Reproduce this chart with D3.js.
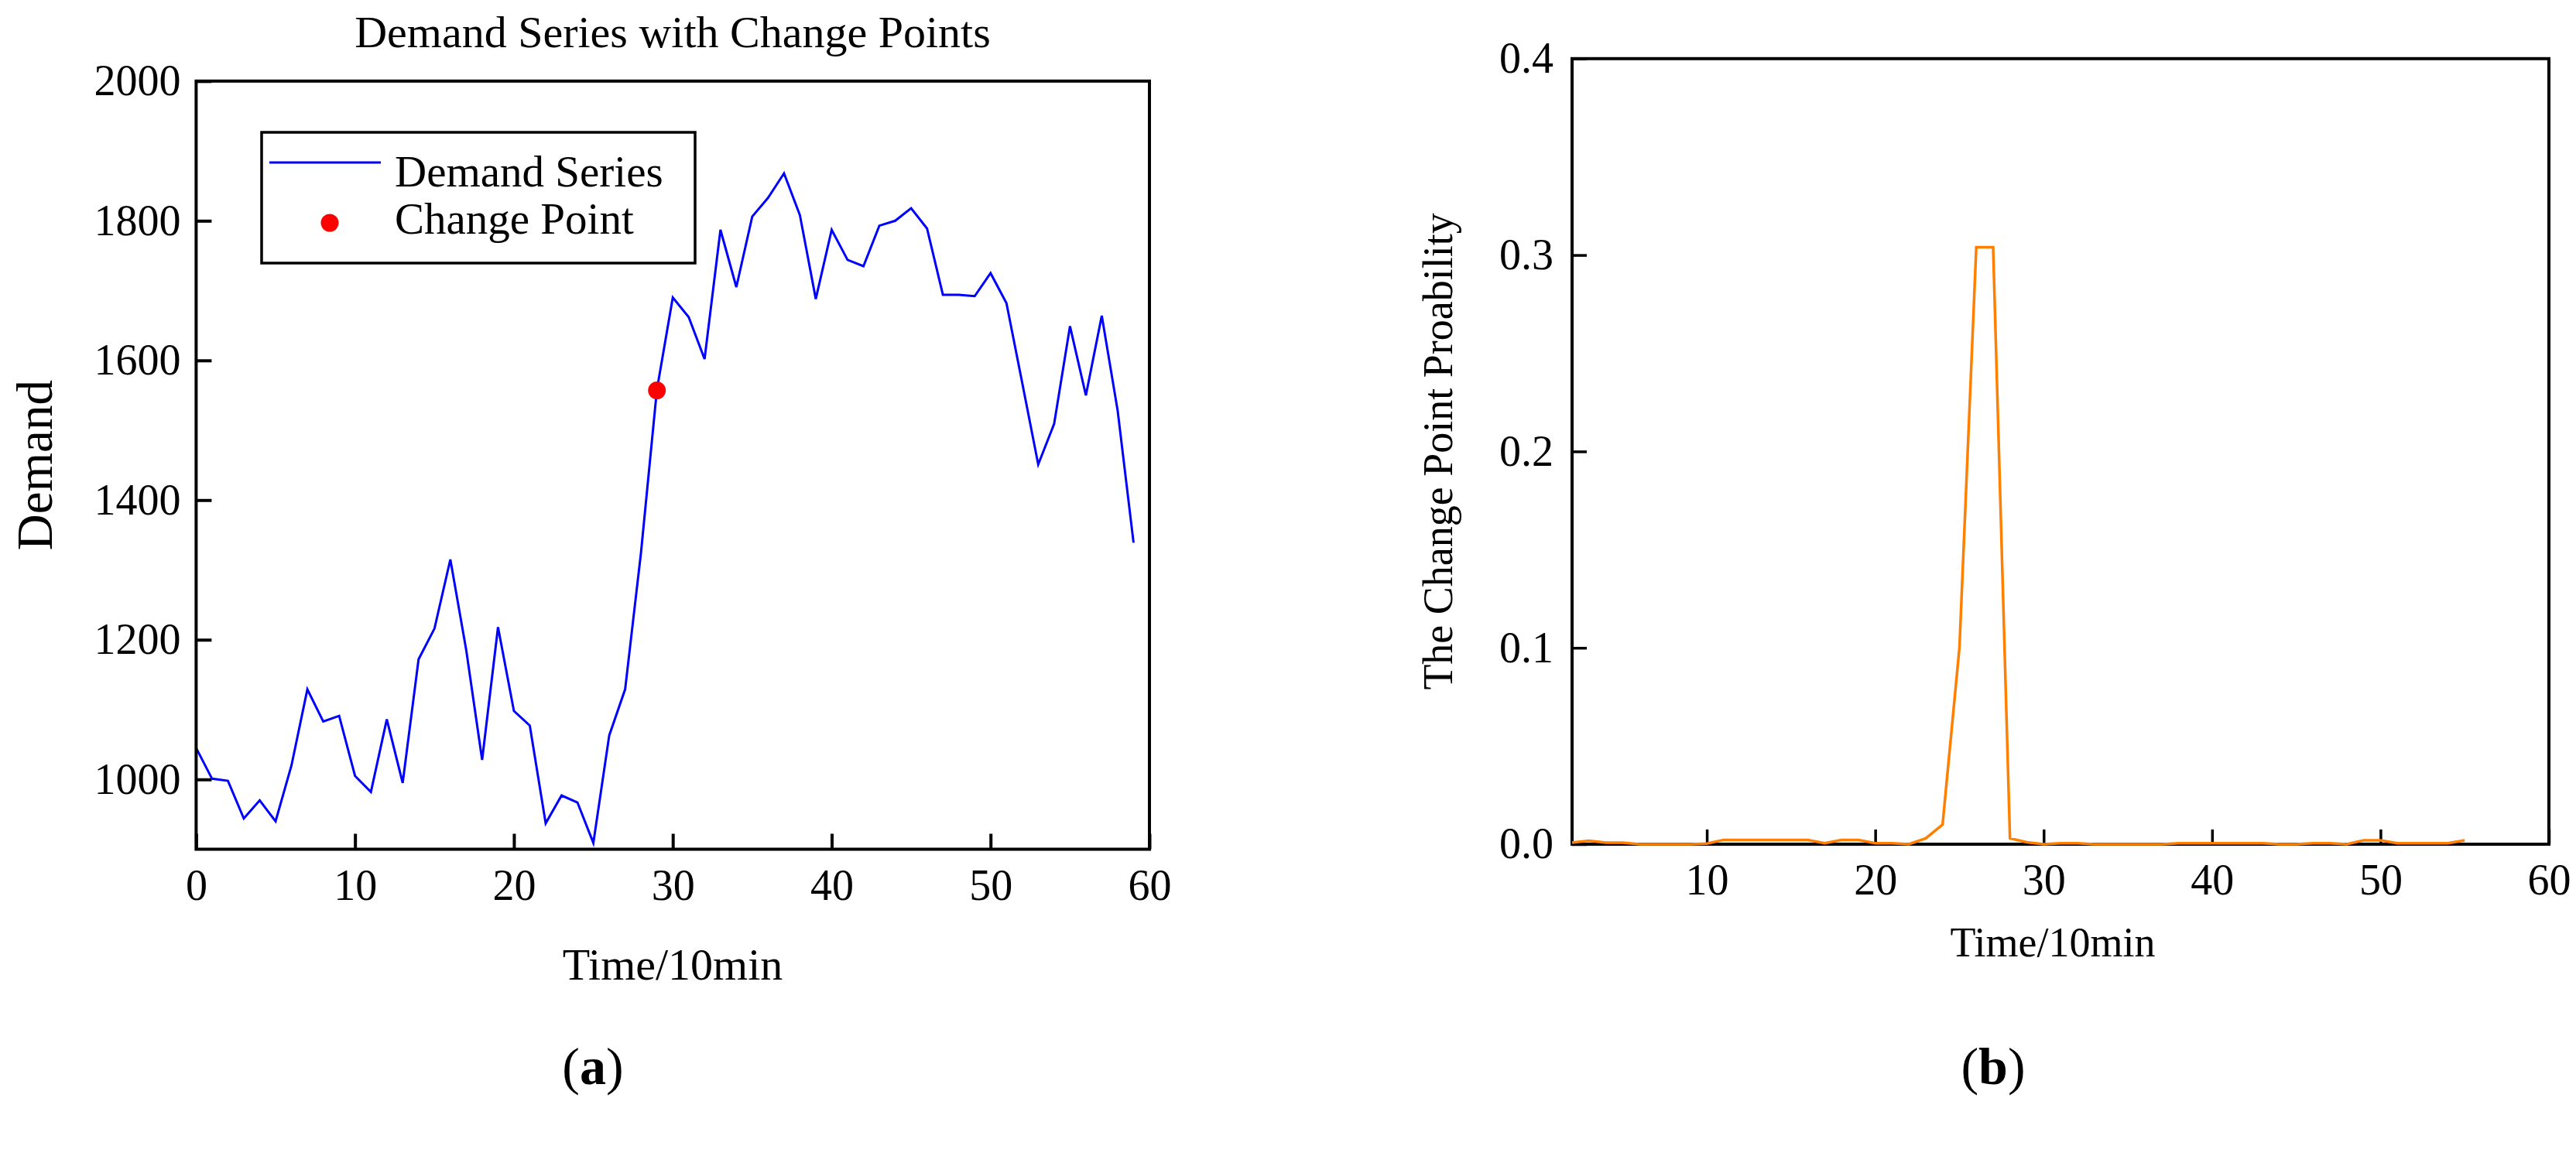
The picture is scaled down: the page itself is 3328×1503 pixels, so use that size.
<!DOCTYPE html>
<html>
<head>
<meta charset="utf-8">
<script src="https://cdn.jsdelivr.net/npm/d3@7"></script>
<style>
  html, body { margin: 0; padding: 0; background: #fff; }
  svg { display: block; }
  text { font-family: "Liberation Serif", "Times New Roman", serif; fill: #000; }
</style>
</head>
<body>
<script>
// ---------- data ----------
const timeA = d3.range(0, 60);
const demand = [1045, 1001, 998, 944, 970, 940, 1020, 1129, 1083, 1091,
                1005, 982, 1086, 995, 1172, 1216, 1315, 1185, 1028, 1218,
                1098, 1077, 937, 977, 967, 909, 1063, 1129, 1325, 1558,
                1690, 1662, 1602, 1787, 1705, 1806, 1833, 1868, 1808, 1688,
                1787, 1744, 1735, 1793, 1800, 1818, 1789, 1694, 1694, 1692,
                1725, 1682, 1567, 1451, 1509, 1649, 1550, 1664, 1528, 1339];
const changePointX = [29];
const changePointY = [1557];

const timeB = d3.range(2, 56);
const prob = [0.0008, 0.0018, 0.0008, 0.0008, 0, 0, 0, 0, 0.0003,
              0.0022, 0.0022, 0.0022, 0.0022, 0.0022, 0.0022, 0.0005, 0.0022, 0.0022,
              0.0005, 0.0005, 0, 0.003, 0.01, 0.1, 0.304, 0.304, 0.003, 0.001,
              0, 0.0005, 0.0005, 0, 0, 0, 0, 0, 0.0005, 0.0005, 0.0005, 0.0005,
              0.0005, 0.0005, 0, 0, 0.0005, 0.0005, 0, 0.002, 0.002, 0.0005,
              0.0005, 0.0005, 0.0005, 0.002];

const xTicksA = [0, 10, 20, 30, 40, 50, 60];
const yTicksA = [1000, 1200, 1400, 1600, 1800, 2000];
const xTicksB = [10, 20, 30, 40, 50, 60];
const yTicksB = [0, 0.1, 0.2, 0.3, 0.4];

const titleA = "Demand Series with Change Points";
const xLabel = "Time/10min";
const yLabelA = "Demand";
const yLabelB = "The Change Point Proability";
const legendLabels = ["Demand Series", "Change Point"];

// ---------- setup ----------
const W = 3328, H = 1503;
const SERIF = '"Liberation Serif", "Times New Roman", serif';
const svg = d3.select("body").append("svg").attr("width", W).attr("height", H);
svg.append("rect").attr("width", W).attr("height", H).attr("fill", "#fff");

const FS = 56;

function styleAxis(a, sw) {
  a.attr("font-family", SERIF).attr("font-size", FS);
  a.select(".domain").remove();
  a.selectAll("line").attr("stroke", "#000").attr("stroke-width", sw);
  a.selectAll("text").attr("font-size", FS).attr("font-family", SERIF).attr("fill", "#000");
}

// ---------- panel (a) ----------
const xa = d3.scaleLinear().domain([0, 60]).range([253.4, 1485]);
const ya = d3.scaleLinear().domain([900, 2000]).range([1097.5, 104.8]);
const ga = svg.append("g");

const axA_x = ga.append("g").attr("transform", `translate(0,${ya(900)})`)
  .call(d3.axisBottom(xa).tickValues(xTicksA).tickFormat(d3.format("d"))
        .tickSizeInner(-20).tickSizeOuter(0).tickPadding(26));
const axA_y = ga.append("g").attr("transform", `translate(${xa(0)},0)`)
  .call(d3.axisLeft(ya).tickValues(yTicksA).tickFormat(d3.format("d"))
        .tickSizeInner(-20).tickSizeOuter(0).tickPadding(20));
styleAxis(axA_x, 4);
styleAxis(axA_y, 4);

ga.append("path").datum(timeA)
  .attr("fill", "none").attr("stroke", "#0000ff").attr("stroke-width", 3)
  .attr("stroke-linejoin", "miter")
  .attr("d", d3.line().x(i => xa(i)).y((i, k) => ya(demand[k])));

ga.selectAll("circle.cp").data(changePointX).enter().append("circle")
  .attr("class", "cp")
  .attr("cx", d => xa(d)).attr("cy", (d, i) => ya(changePointY[i]))
  .attr("r", 11.5).attr("fill", "#ff0000");

ga.append("rect")
  .attr("x", xa(0)).attr("y", ya(2000))
  .attr("width", xa(60) - xa(0)).attr("height", ya(900) - ya(2000))
  .attr("fill", "none").attr("stroke", "#000").attr("stroke-width", 4);

// legend
const lg = ga.append("g");
lg.append("rect").attr("x", 338).attr("y", 171).attr("width", 560).attr("height", 169)
  .attr("fill", "#fff").attr("stroke", "#000").attr("stroke-width", 3.5);
lg.append("line").attr("x1", 348).attr("x2", 492).attr("y1", 210).attr("y2", 210)
  .attr("stroke", "#0000ff").attr("stroke-width", 3);
lg.append("circle").attr("cx", 426).attr("cy", 288).attr("r", 11.5).attr("fill", "#ff0000");
lg.append("text").attr("x", 510).attr("y", 241).attr("font-size", FS + 1).text(legendLabels[0]);
lg.append("text").attr("x", 510).attr("y", 302).attr("font-size", FS + 1).text(legendLabels[1]);

// titles
ga.append("text").attr("x", 869).attr("y", 61).attr("text-anchor", "middle")
  .attr("font-size", FS + 2).text(titleA);
ga.append("text").attr("x", 869).attr("y", 1266).attr("text-anchor", "middle")
  .attr("font-size", FS + 2).text(xLabel);
ga.append("text").attr("transform", `translate(67,${(ya(900) + ya(2000)) / 2}) rotate(-90)`)
  .attr("text-anchor", "middle").attr("font-size", 65).text(yLabelA);

// ---------- panel (b) ----------
const xb = d3.scaleLinear().domain([2, 60]).range([2031, 3293]);
const yb = d3.scaleLinear().domain([0, 0.4]).range([1091, 75.8]);
const gb = svg.append("g");

const axB_x = gb.append("g").attr("transform", `translate(0,${yb(0)})`)
  .call(d3.axisBottom(xb).tickValues(xTicksB).tickFormat(d3.format("d"))
        .tickSizeInner(-19).tickSizeOuter(0).tickPadding(25));
const axB_y = gb.append("g").attr("transform", `translate(${xb(2)},0)`)
  .call(d3.axisLeft(yb).tickValues(yTicksB).tickFormat(d3.format(".1f"))
        .tickSizeInner(-19).tickSizeOuter(0).tickPadding(24));
styleAxis(axB_x, 3.5);
styleAxis(axB_y, 3.5);

gb.append("rect")
  .attr("x", xb(2)).attr("y", yb(0.4))
  .attr("width", xb(60) - xb(2)).attr("height", yb(0) - yb(0.4))
  .attr("fill", "none").attr("stroke", "#000").attr("stroke-width", 4);

gb.append("path").datum(timeB)
  .attr("fill", "none").attr("stroke", "#ff8000").attr("stroke-width", 3.5)
  .attr("d", d3.line().x(t => xb(t)).y((t, k) => yb(prob[k])));

gb.append("text").attr("x", 2652).attr("y", 1236).attr("text-anchor", "middle")
  .attr("font-size", 54).text(xLabel);
gb.append("text").attr("transform", `translate(1876,${(yb(0) + yb(0.4)) / 2}) rotate(-90)`)
  .attr("text-anchor", "middle").attr("font-size", 54).text(yLabelB);

// ---------- sub-figure labels ----------
const subLabels = [["a", 766], ["b", 2575]];
subLabels.forEach(([s, x]) => {
  const t = svg.append("text").attr("x", x).attr("y", 1401).attr("text-anchor", "middle")
    .attr("font-size", 68);
  t.append("tspan").text("(");
  t.append("tspan").attr("font-weight", "bold").text(s);
  t.append("tspan").text(")");
});
</script>
</body>
</html>
